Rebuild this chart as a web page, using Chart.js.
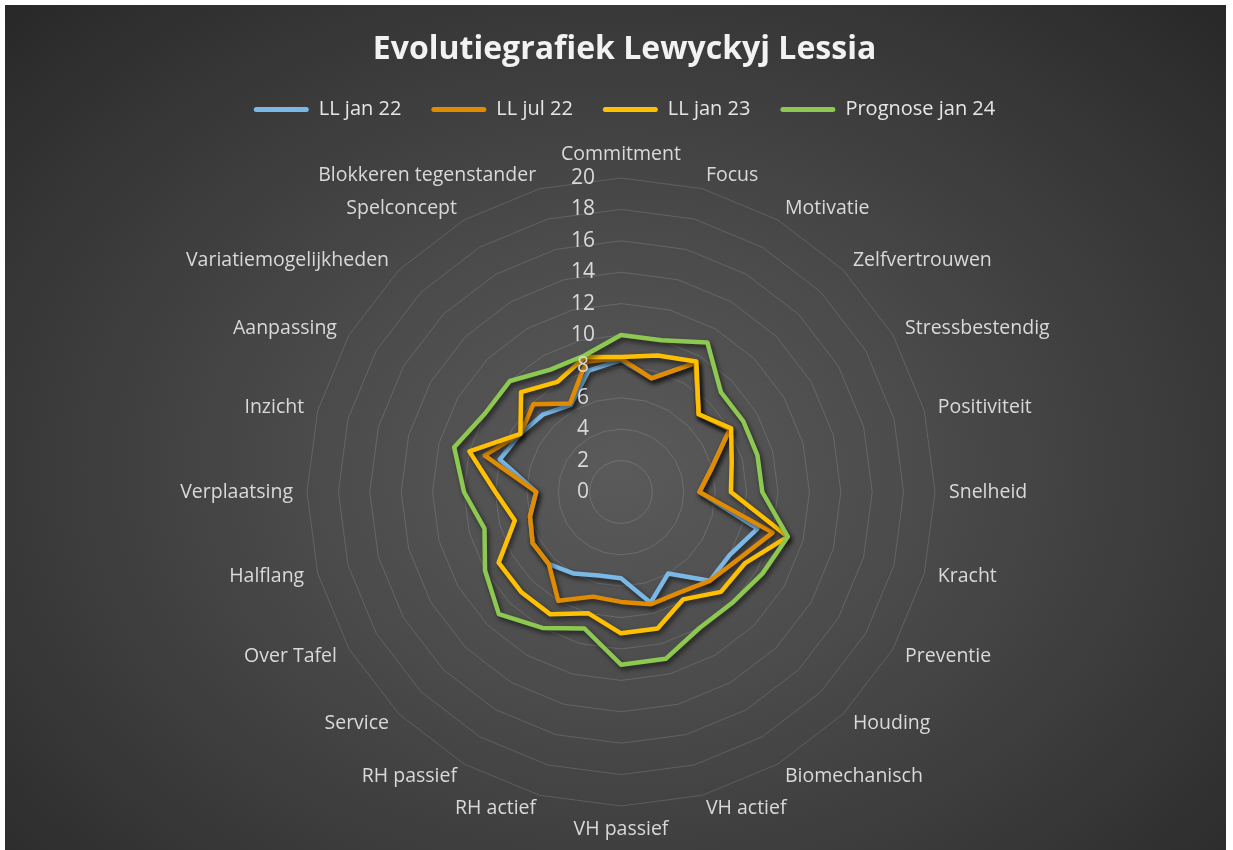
<!DOCTYPE html>
<html>
<head>
<meta charset="utf-8">
<script src="https://cdn.jsdelivr.net/npm/chart.js@4"></script>
<style>
    html, body { margin: 0; padding: 0; background: #ffffff; overflow: hidden; }
    #bg {
        position: absolute; left: 5px; top: 5px; width: 1221px; height: 845px;
        background: radial-gradient(ellipse farthest-corner at 50% 55%, #5a5a5a 0%, #4b4b4b 35%, #363636 75%, #282828 100%);
    }
    #wrap { position: absolute; left: 0; top: 0; width: 1233px; height: 850px; }
</style>
</head>
<body>
<div id="bg"></div>
<div id="wrap"><canvas id="evolutieChart"></canvas></div>
<script>
// Categorieen en waarden
const categories = ['Commitment', 'Focus', 'Motivatie', 'Zelfvertrouwen', 'Stressbestendig', 'Positiviteit',
    'Snelheid', 'Kracht', 'Preventie', 'Houding', 'Biomechanisch', 'VH actief', 'VH passief', 'RH actief',
    'RH passief', 'Service', 'Over Tafel', 'Halflang', 'Verplaatsing', 'Inzicht', 'Aanpassing',
    'Variatiemogelijkheden', 'Spelconcept', 'Blokkeren tegenstander'];
const tickLabels = [0, 2, 4, 6, 8, 10, 12, 14, 16, 18, 20];
const seriesNames = ['LL jan 22', 'LL jul 22', 'LL jan 23', 'Prognose jan 24'];
const llJan22 = [8.4, 7.5, 9.5, 7, 8, 6, 5, 9, 8, 8, 6, 7.3, 5.5, 5.5, 6, 6.5, 6.5, 6, 5.4, 8, 7.4, 7, 6.4, 8];
const llJul22 = [8.5, 7.5, 9.5, 7, 8, 6, 5, 10, 8.6, 8, 7.4, 7.4, 7, 6.9, 8, 6.5, 6.5, 6, 5.4, 9, 7.4, 7.9, 6.5, 8.6];
const llJan23 = [8.6, 9, 9.6, 7, 8.1, 7.3, 7, 11, 9.1, 9, 7.9, 9, 9, 8, 9, 9, 9, 7, 8, 10, 7.4, 9, 8.1, 8.9];
const prognoseJan24 = [10, 10, 11, 9, 9, 9, 9, 11, 10.4, 10, 10, 11, 11, 9, 10, 11, 10, 9, 10, 11, 10, 10, 9, 9];
const seriesColors = ['#7ab8e6', '#e08b00', '#ffc000', '#8dc850'];

const FONT = "'Open Sans', sans-serif";
const textColor = '#d9d9d9';

// schaduw onder de lijnen
const shadowPlugin = {
    id: 'lineShadow',
    beforeDatasetDraw(chart) {
        const ctx = chart.ctx;
        ctx.save();
        ctx.shadowColor = 'rgba(0, 0, 0, 0.6)';
        ctx.shadowBlur = 5;
        ctx.shadowOffsetX = 2;
        ctx.shadowOffsetY = 3;
    },
    afterDatasetDraw(chart) {
        chart.ctx.restore();
    }
};

// aslabels en schaalwaarden zoals in Excel
const radarTextPlugin = {
    id: 'radarText',
    afterDatasetsDraw(chart) {
        const r = chart.scales.r;
        const ctx = chart.ctx;
        ctx.save();
        ctx.fillStyle = textColor;

        ctx.font = '21px ' + FONT;
        ctx.textAlign = 'center';
        ctx.textBaseline = 'middle';
        tickLabels.forEach(v => {
            ctx.fillText(String(v), r.xCenter - 38, r.yCenter - r.getDistanceFromCenterForValue(v));
        });

        ctx.font = '19.5px ' + FONT;
        chart.data.labels.forEach((label, i) => {
            const p = r.getPointPosition(i, r.drawingArea + 14);
            const deg = Math.round(r.getIndexAngle(i) * 180 / Math.PI) % 360;
            if (deg === 0) {
                ctx.textAlign = 'center';
                ctx.textBaseline = 'bottom';
            } else if (deg === 180) {
                ctx.textAlign = 'center';
                ctx.textBaseline = 'top';
            } else {
                ctx.textAlign = deg < 180 ? 'left' : 'right';
                ctx.textBaseline = 'middle';
            }
            ctx.fillText(label, p.x, p.y);
        });
        ctx.restore();
    }
};

const allSeries = [llJan22, llJul22, llJan23, prognoseJan24];

new Chart(document.getElementById('evolutieChart'), {
    type: 'radar',
    data: {
        labels: categories,
        datasets: allSeries.map((values, i) => ({
            label: seriesNames[i],
            data: values,
            borderColor: seriesColors[i],
            backgroundColor: seriesColors[i],
            borderWidth: 4.5,
            borderJoinStyle: 'round',
            pointRadius: 0,
            fill: false,
            order: allSeries.length - i
        }))
    },
    options: {
        responsive: true,
        maintainAspectRatio: false,
        animation: false,
        layout: { padding: { left: 16, right: 0, top: 0, bottom: 0 } },
        plugins: {
            title: {
                display: true,
                text: 'Evolutiegrafiek Lewyckyj Lessia',
                color: '#f2f2f2',
                font: { family: FONT, size: 32, weight: 'bold' },
                padding: { top: 31, bottom: 0 }
            },
            legend: {
                display: true,
                labels: {
                    color: '#e6e6e6',
                    font: { family: FONT, size: 20 },
                    boxWidth: 55,
                    boxHeight: 5,
                    padding: 30,
                    sort: (a, b) => a.datasetIndex - b.datasetIndex,
                    generateLabels: function (chart) {
                        return Chart.defaults.plugins.legend.labels.generateLabels(chart)
                            .map(item => Object.assign(item, { lineWidth: 0, borderRadius: 2.5 }));
                    }
                }
            },
            tooltip: { enabled: false }
        },
        scales: {
            r: {
                min: 0,
                max: 20,
                ticks: { stepSize: 2, display: false },
                angleLines: { display: false },
                grid: { color: 'rgba(255, 255, 255, 0.14)', lineWidth: 1 },
                pointLabels: { display: false },
                // middelpunt en straal vast zoals in het origineel
                afterFit: function (scale) {
                    scale.xCenter = 621;
                    scale.yCenter = 492;
                    scale.drawingArea = 314;
                }
            }
        }
    },
    plugins: [shadowPlugin, radarTextPlugin]
});
</script>
</body>
</html>
